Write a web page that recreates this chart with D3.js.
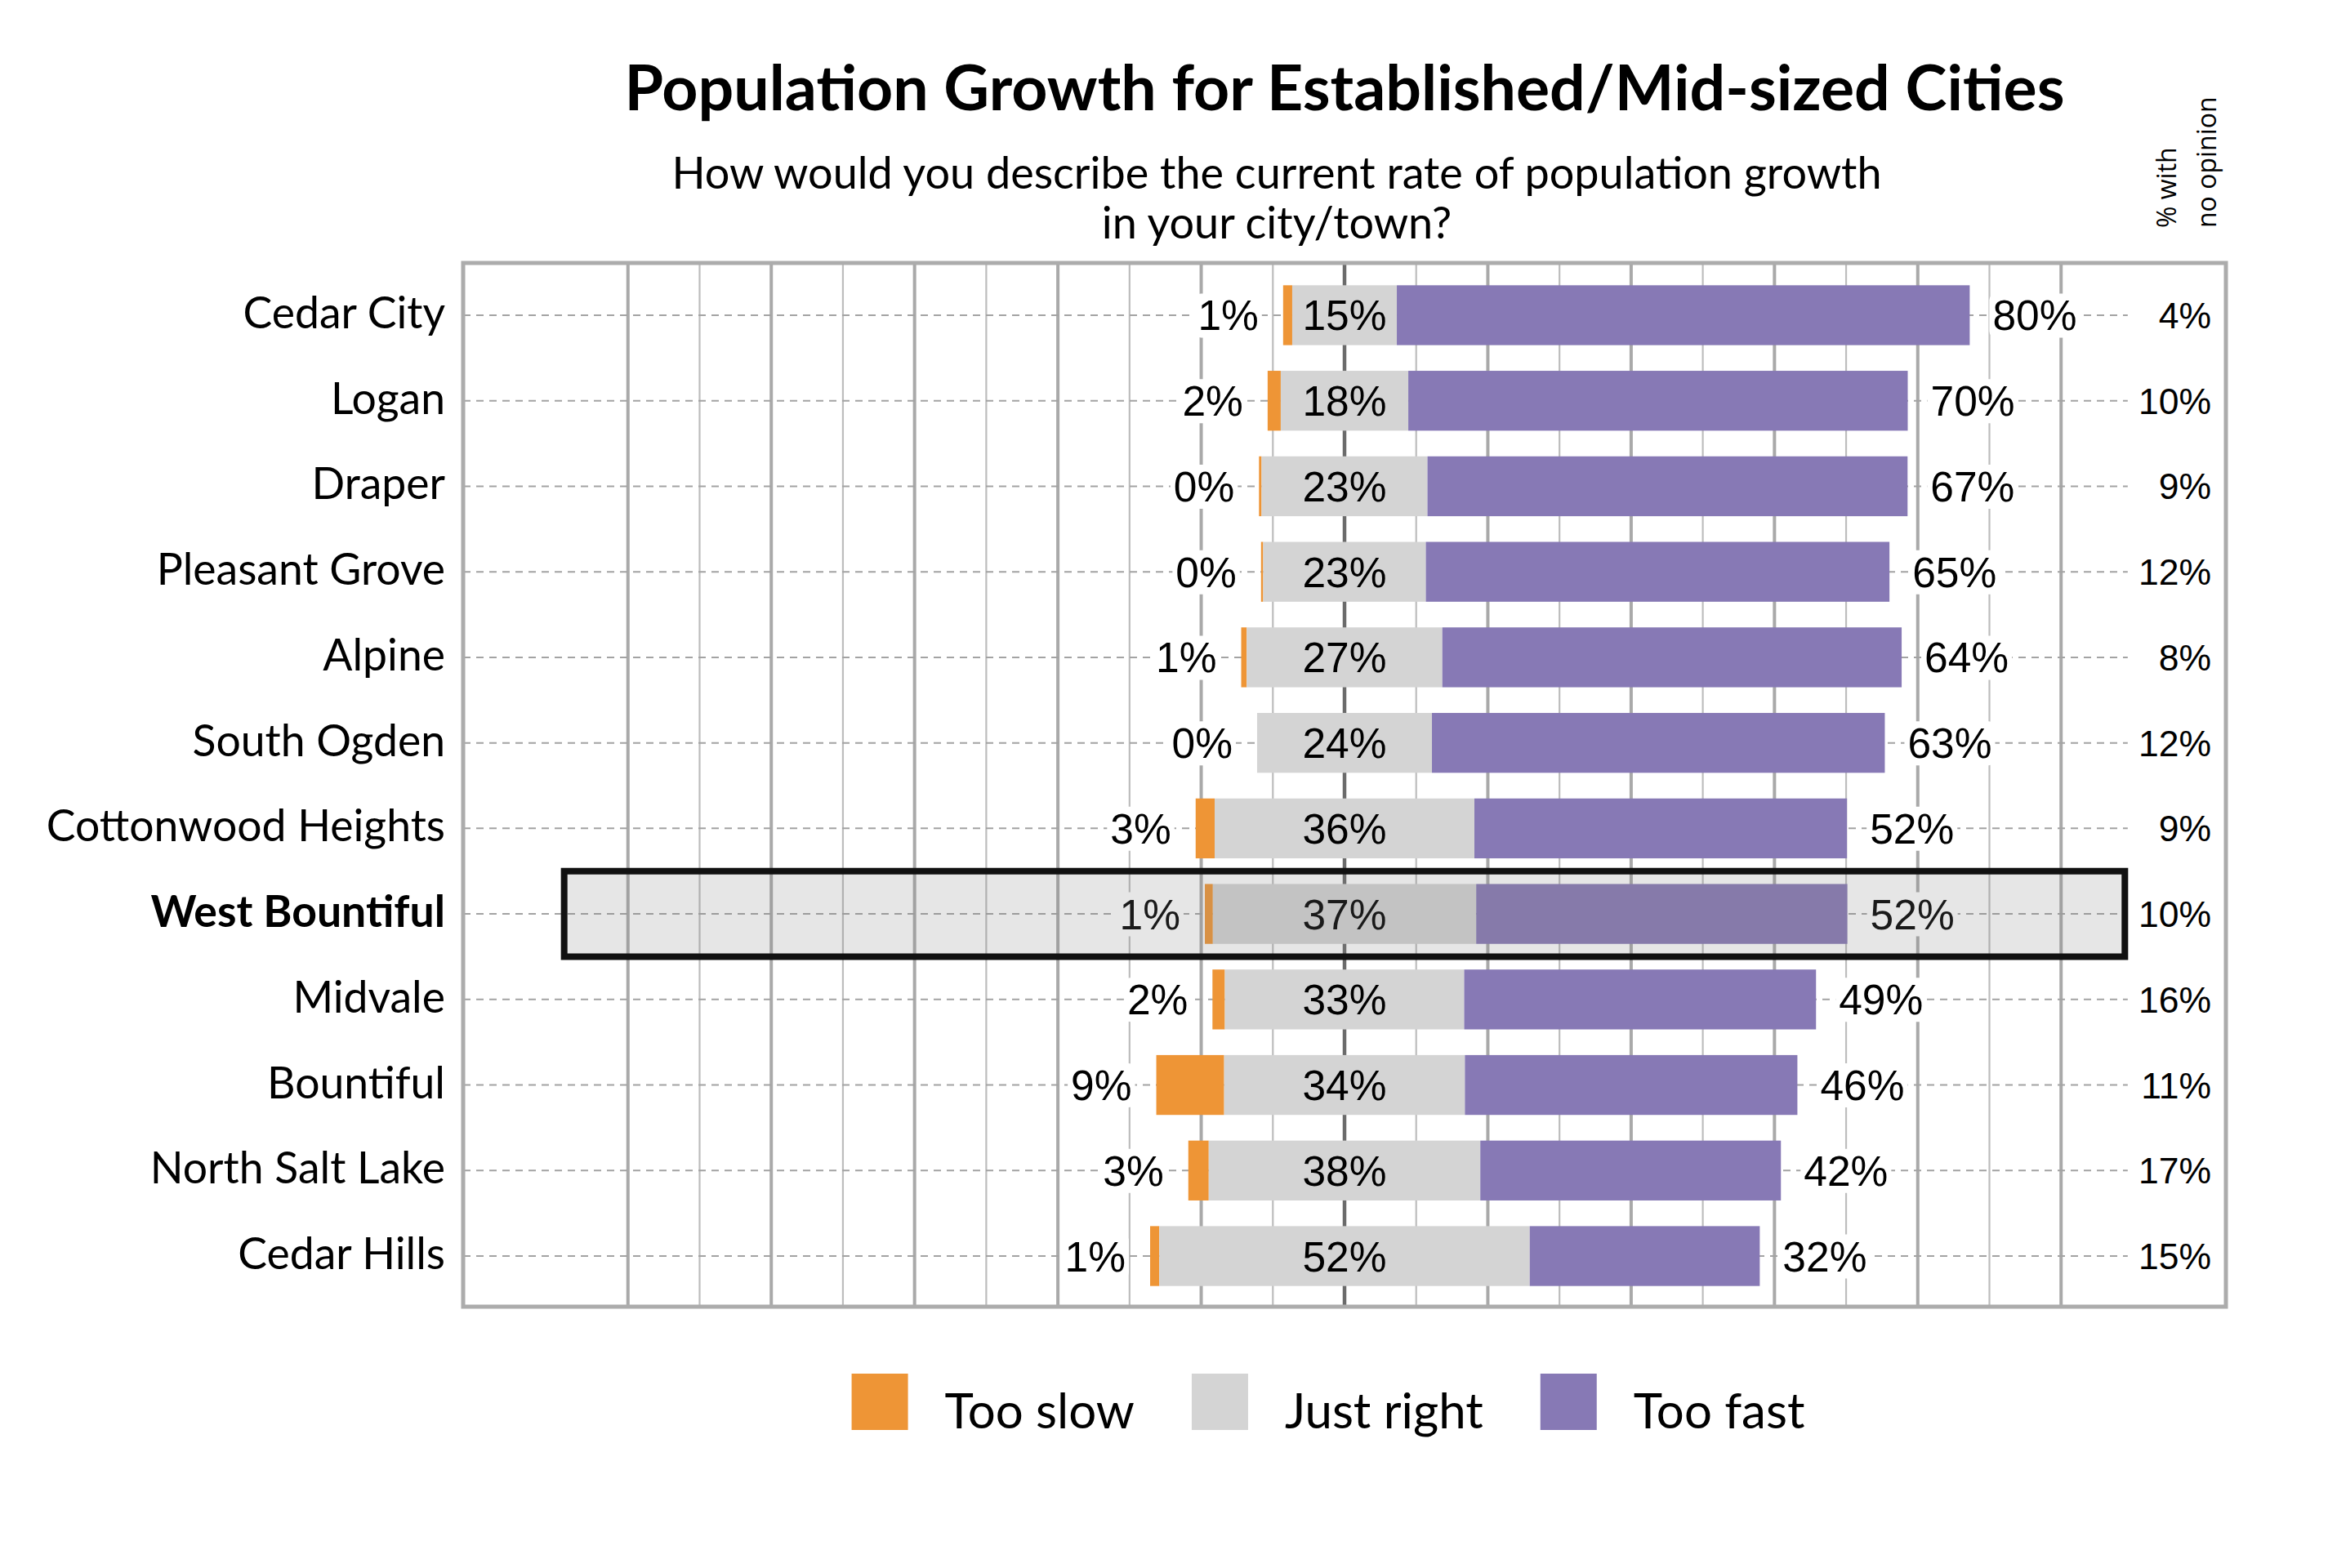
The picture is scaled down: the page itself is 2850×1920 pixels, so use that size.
<!DOCTYPE html>
<html>
<head>
<meta charset="utf-8">
<script src="https://cdn.jsdelivr.net/npm/d3@7"></script>
<style>
  body { margin: 0; background: #fff; }
  svg { display: block; }
  .city { font-family: Lato, sans-serif; font-size: 53.5px; fill: #000; }
  .val { font-family: "Liberation Sans", Arial, sans-serif; font-size: 51.5px; fill: #000; }
  .none-val { font-family: "Liberation Sans", Arial, sans-serif; font-size: 44.5px; fill: #000; }
</style>
</head>
<body>
<div id="chart"></div>
<script>
/* DATA */
const cities = ["Cedar City", "Logan", "Draper", "Pleasant Grove", "Alpine", "South Ogden",
  "Cottonwood Heights", "West Bountiful", "Midvale", "Bountiful", "North Salt Lake", "Cedar Hills"];
const tooSlow = [1.27, 1.83, 0.36, 0.3, 0.77, 0, 2.65, 1.12, 1.73, 9.47, 2.85, 1.28];
const justRight = [14.6, 17.8, 23.15, 22.7, 27.3, 24.4, 36.25, 36.75, 33.4, 33.6, 37.9, 51.7];
const tooFast = [79.95, 69.7, 67.0, 64.7, 64.1, 63.2, 52.0, 51.8, 49.1, 46.4, 41.95, 32.1];
const noOpinion = [4, 10, 9, 12, 8, 12, 9, 10, 16, 11, 17, 15];
const highlightCity = "West Bountiful";
const gridTicks = d3.range(-100, 101, 10);
const legendLabels = ["Too slow", "Just right", "Too fast"];
const colors = ["#ee9536", "#d4d4d4", "#8779b5"];

/* CONSTANTS */
const width = 2850,
  height = 1920,
  plot = { left: 567, right: 2725, top: 322, bottom: 1600 },
  xExtent = 123,      // axis runs symmetric around the "just right" centre
  boxExtent = 108.9,  // highlight box half width, in %
  lineExtent = 109.3  // dotted row lines stop here
  ;

const fmt = v => Math.round(v) + "%";

const rows = cities.map((c, i) => ({
  city: c,
  slow: tooSlow[i],
  right: justRight[i],
  fast: tooFast[i],
  none: noOpinion[i]
}));

/* SCALES */
const x = d3.scaleLinear()
  .domain([-xExtent, xExtent])
  .range([plot.left, plot.right]);

const y = d3.scaleBand()
  .domain(cities)
  .range([333.6, 1590.4])
  .paddingInner(0.3)
  .paddingOuter(0.15);

const mid = d => y(d.city) + y.bandwidth() / 2;

/* SVG */
const svg = d3.select("#chart")
  .append("svg")
  .attr("width", width)
  .attr("height", height);

// title + subtitle
svg.append("text")
  .attr("x", x(0))
  .attr("y", 135)
  .attr("text-anchor", "middle")
  .style("font-family", "Lato, sans-serif")
  .style("font-weight", "bold")
  .style("font-size", "77px")
  .text("Population Growth for Established/Mid-sized Cities");

const sub = svg.append("text")
  .attr("text-anchor", "middle")
  .style("font-family", "Lato, sans-serif")
  .style("font-size", "54px");
sub.append("tspan").attr("x", 1563).attr("y", 231)
  .text("How would you describe the current rate of population growth");
sub.append("tspan").attr("x", 1563).attr("y", 292)
  .text("in your city/town?");

// rotated header for the right column
const hdr = svg.append("text")
  .attr("transform", "translate(2664, 279) rotate(-90)")
  .style("font-family", "'Open Sans', sans-serif")
  .style("font-size", "32px");
hdr.append("tspan").attr("x", 0).attr("y", 0).text("% with");
hdr.append("tspan").attr("x", 0).attr("y", 49).text("no opinion");

// + GRIDLINES
svg.append("g")
  .selectAll("line")
  .data(gridTicks)
  .join("line")
  .attr("x1", d => x(d))
  .attr("x2", d => x(d))
  .attr("y1", plot.top)
  .attr("y2", plot.bottom)
  .attr("stroke", d => d === 0 ? "#6b6b6b" : (d % 20 === 0 ? "#a9a9a9" : "#bdbdbd"))
  .attr("stroke-width", d => d === 0 ? 4.5 : (d % 20 === 0 ? 4 : 2.2));

svg.append("g")
  .selectAll("line")
  .data(rows)
  .join("line")
  .attr("x1", plot.left)
  .attr("x2", x(lineExtent))
  .attr("y1", mid)
  .attr("y2", mid)
  .attr("stroke", "#a3a3a3")
  .attr("stroke-width", 2)
  .attr("stroke-dasharray", "9,7");

// + BARS
const segs = [];
rows.forEach(d => {
  segs.push({ city: d.city, k: 0, x0: -d.right / 2 - d.slow, x1: -d.right / 2 });
  segs.push({ city: d.city, k: 1, x0: -d.right / 2, x1: d.right / 2 });
  segs.push({ city: d.city, k: 2, x0: d.right / 2, x1: d.right / 2 + d.fast });
});

svg.append("g")
  .selectAll("rect")
  .data(segs)
  .join("rect")
  .attr("x", d => x(d.x0))
  .attr("width", d => x(d.x1) - x(d.x0))
  .attr("y", d => y(d.city))
  .attr("height", y.bandwidth())
  .attr("fill", d => colors[d.k]);

// + LABELS (white boxes hide the grid behind them)
function labelWithBg(g, tx, ty, anchor, txt, cls, bg) {
  const t = g.append("text")
    .attr("class", cls)
    .attr("x", tx)
    .attr("y", ty)
    .attr("text-anchor", anchor)
    .text(txt);
  if (bg) {
    const b = t.node().getBBox();
    g.insert("rect", "text")
      .attr("x", b.x - 4)
      .attr("y", b.y + 2)
      .attr("width", b.width + 8)
      .attr("height", b.height - 4)
      .attr("rx", 8)
      .attr("fill", "#fff");
  }
}

const labels = svg.append("g");
rows.forEach(d => {
  const cy = mid(d);
  const base = cy + 18.5;
  labelWithBg(labels.append("g"), x(-d.right / 2 - d.slow) - 30, base, "end", fmt(d.slow), "val", true);
  labelWithBg(labels.append("g"), x(0), base, "middle", fmt(d.right), "val", false);
  labelWithBg(labels.append("g"), x(d.right / 2 + d.fast) + 28, base, "start", fmt(d.fast), "val", true);
  labelWithBg(labels.append("g"), 2707, cy + 16, "end", fmt(d.none), "none-val", true);
});

// city names
svg.append("g")
  .selectAll("text")
  .data(rows)
  .join("text")
  .attr("class", "city")
  .attr("x", 545)
  .attr("y", d => mid(d) + 16)
  .attr("text-anchor", "end")
  .style("font-weight", d => d.city === highlightCity ? "bold" : "normal")
  .text(d => d.city);

// plot frame
svg.append("rect")
  .attr("x", plot.left)
  .attr("y", plot.top)
  .attr("width", plot.right - plot.left)
  .attr("height", plot.bottom - plot.top)
  .attr("fill", "none")
  .attr("stroke", "#acacac")
  .attr("stroke-width", 5);

// + HIGHLIGHT BOX
const step = y.step();
svg.append("rect")
  .attr("x", x(-boxExtent))
  .attr("width", x(boxExtent) - x(-boxExtent))
  .attr("y", y(highlightCity) - (step - y.bandwidth()) / 2)
  .attr("height", step)
  .attr("fill", "rgb(128,128,128)")
  .attr("fill-opacity", 0.2)
  .attr("stroke", "#111")
  .attr("stroke-width", 8);

// + LEGEND
const legend = svg.append("g");
let lx = 0;
legendLabels.forEach((l, i) => {
  const item = legend.append("g").attr("transform", `translate(${lx}, 0)`);
  item.append("rect")
    .attr("x", 0).attr("y", 1682)
    .attr("width", 69).attr("height", 69)
    .attr("fill", colors[i]);
  const t = item.append("text")
    .attr("x", 114).attr("y", 1749)
    .style("font-family", "Lato, sans-serif")
    .style("font-size", "60px")
    .text(l);
  lx += 114 + t.node().getComputedTextLength() + 70;
});
const legendW = lx - 70;
legend.attr("transform", `translate(${1626 - legendW / 2}, 0)`);
</script>
</body>
</html>
